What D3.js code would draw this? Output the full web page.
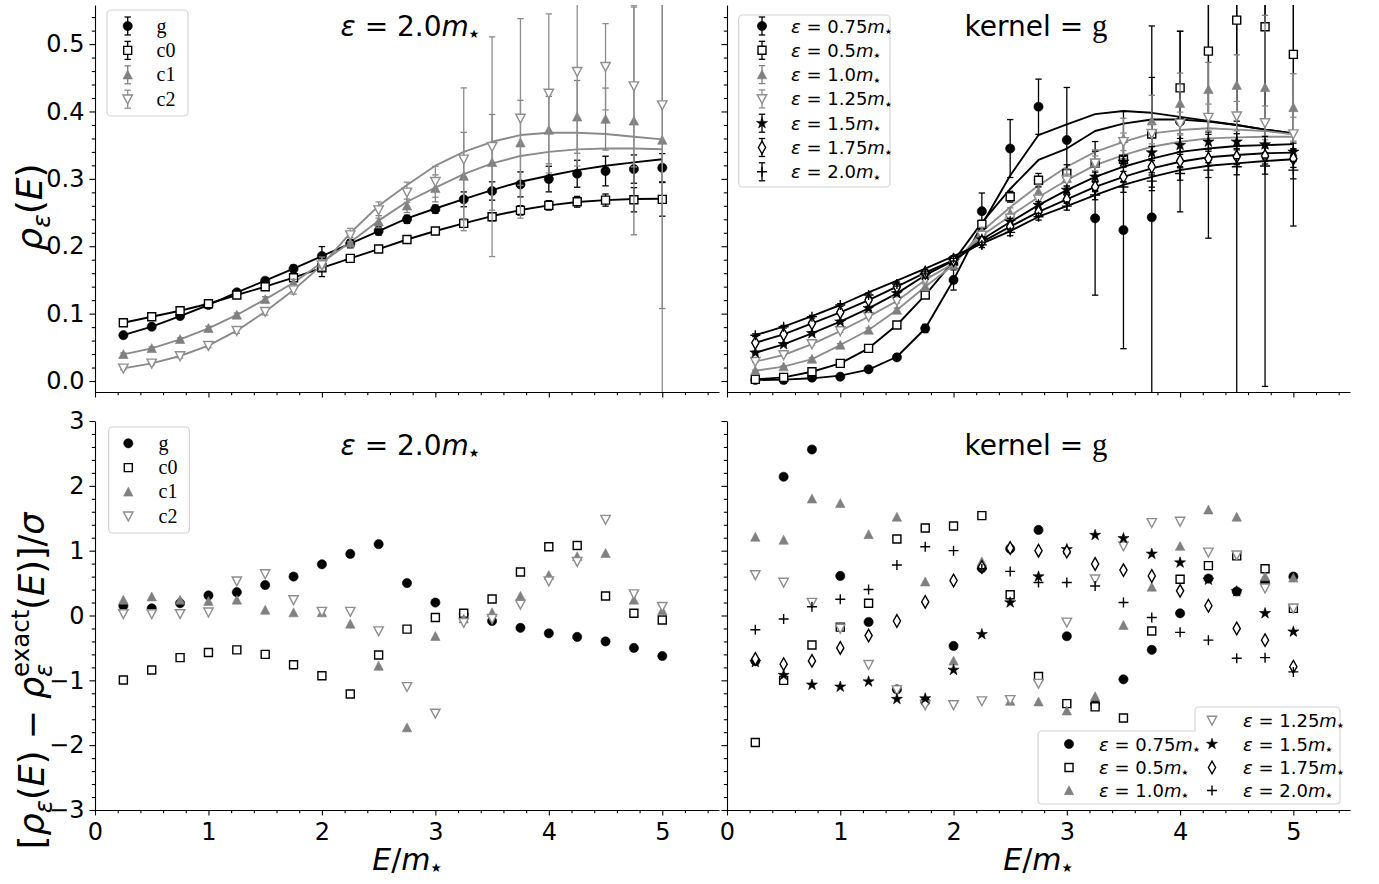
<!DOCTYPE html>
<html><head><meta charset="utf-8">
<script src="https://cdn.jsdelivr.net/npm/d3@7"></script>
<style>body{margin:0;background:#fff}svg{display:block}</style>
</head><body>
<svg id="chart" width="1379" height="884"></svg>
<script>
// ---------------- DATA ----------------
const E = [0.25,0.5,0.75,1.0,1.25,1.5,1.75,2.0,2.25,2.5,2.75,3.0,3.25,3.5,3.75,4.0,4.25,4.5,4.75,5.0];

// Top-left: eps = 2.0 m*, kernels g, c0, c1, c2
const kernelNames = ["g","c0","c1","c2"];
const tl_g      = [0.068,0.0806,0.0964,0.1128,0.1316,0.1488,0.1667,0.1855,0.204,0.2226,0.240,0.255,0.2696,0.282,0.2918,0.2997,0.3076,0.3116,0.3145,0.3165];
const tl_g_err  = [0.002,0.002,0.002,0.003,0.003,0.004,0.005,0.014,0.006,0.006,0.006,0.006,0.011,0.0136,0.0185,0.019,0.02,0.022,0.021,0.021];
const tl_g_ex   = [0.068,0.0806,0.0964,0.1128,0.1316,0.1488,0.1667,0.1855,0.204,0.2226,0.2414,0.256,0.270,0.2834,0.2957,0.3046,0.313,0.3195,0.3244,0.329];
const tl_c0     = [0.0865,0.0954,0.1043,0.1147,0.1276,0.140,0.1533,0.168,0.182,0.1958,0.210,0.2226,0.234,0.2438,0.2532,0.2606,0.266,0.2685,0.269,0.2696];
const tl_c0_err = [0.002,0.002,0.002,0.002,0.003,0.003,0.004,0.013,0.004,0.004,0.005,0.005,0.006,0.006,0.007,0.007,0.008,0.009,0.018,0.025];
const tl_c0_ex  = [0.0865,0.0954,0.1043,0.1147,0.1276,0.140,0.1533,0.168,0.182,0.1958,0.210,0.2226,0.234,0.2448,0.2537,0.2606,0.2656,0.2685,0.270,0.2705];
const tl_c1     = [0.0396,0.0485,0.0619,0.0782,0.098,0.1212,0.1459,0.176,0.205,0.2364,0.260,0.2859,0.304,0.3245,0.3536,0.3724,0.392,0.3887,0.386,0.3576];
const tl_c1_err = [0.002,0.002,0.002,0.003,0.003,0.004,0.005,0.008,0.008,0.009,0.010,0.020,0.065,0.071,0.063,0.050,0.054,0.046,0.169,0.250];
const tl_c1_ex  = [0.0396,0.0485,0.0619,0.0782,0.098,0.1212,0.1459,0.176,0.206,0.238,0.266,0.287,0.307,0.323,0.334,0.340,0.3437,0.345,0.345,0.344];
const tl_c2     = [0.0188,0.0262,0.0371,0.0524,0.0747,0.1029,0.135,0.172,0.2166,0.2537,0.280,0.2957,0.329,0.3477,0.3897,0.4268,0.459,0.4664,0.4377,0.4095];
const tl_c2_err = [0.002,0.002,0.003,0.003,0.004,0.005,0.006,0.008,0.010,0.012,0.015,0.023,0.106,0.163,0.148,0.118,0.140,0.064,0.120,0.450];
const tl_c2_ex  = [0.0188,0.0262,0.0371,0.0524,0.0747,0.1029,0.135,0.172,0.2196,0.260,0.2908,0.3195,0.340,0.355,0.365,0.3684,0.3684,0.3665,0.3625,0.3586];

// Top-right: kernel g, several eps (legend order)
const epsLabels = ["0.75","0.5","1.0","1.25","1.5","1.75","2.0"];
const tr_075     = [0.0015,0.0015,0.005,0.0064,0.0173,0.0351,0.078,0.150,0.252,0.345,0.407,0.3576,0.2414,0.224,0.2429,0.385,0.586,0.600,0.698,0.570];
const tr_075_err = [0.001,0.001,0.001,0.002,0.003,0.004,0.006,0.015,0.027,0.043,0.041,0.078,0.114,0.176,0.284,0.134,0.374,0.700,0.706,0.340];
const tr_075_ex  = [0.0015,0.002,0.004,0.008,0.017,0.036,0.078,0.150,0.232,0.305,0.365,0.381,0.396,0.4006,0.398,0.392,0.386,0.380,0.373,0.3675];
const tr_05      = [0.0025,0.0054,0.0138,0.0262,0.0485,0.0831,0.1276,0.178,0.2325,0.2735,0.298,0.308,0.323,0.329,0.3665,0.435,0.4896,0.5356,0.5257,0.4847];
const tr_05_err  = [0.001,0.001,0.001,0.002,0.002,0.003,0.004,0.005,0.006,0.008,0.010,0.013,0.018,0.025,0.084,0.084,0.120,0.150,0.200,0.140];
const tr_05_ex   = [0.0025,0.0054,0.0138,0.0262,0.0485,0.0831,0.1276,0.178,0.235,0.285,0.328,0.345,0.371,0.382,0.388,0.388,0.385,0.380,0.373,0.3675];
const tr_10      = [0.0153,0.0213,0.0326,0.0534,0.0757,0.1053,0.140,0.172,0.222,0.249,0.281,0.3007,0.323,0.360,0.386,0.412,0.4328,0.439,0.4357,0.406];
const tr_10_err  = [0.001,0.001,0.002,0.002,0.003,0.003,0.004,0.005,0.006,0.008,0.010,0.014,0.020,0.030,0.038,0.045,0.040,0.045,0.107,0.050];
const tr_10_ex   = [0.0153,0.0213,0.0326,0.0534,0.0757,0.1053,0.140,0.172,0.222,0.258,0.290,0.318,0.340,0.355,0.3675,0.3724,0.375,0.373,0.371,0.366];
const tr_125     = [0.0287,0.0386,0.0549,0.0742,0.0955,0.1187,0.150,0.1746,0.216,0.2414,0.2696,0.298,0.323,0.355,0.367,0.382,0.391,0.393,0.383,0.3665];
const tr_125_err = [0.001,0.001,0.002,0.002,0.002,0.003,0.003,0.004,0.005,0.006,0.007,0.009,0.011,0.013,0.015,0.017,0.020,0.022,0.025,0.025];
const tr_125_ex  = [0.0287,0.0386,0.0549,0.0742,0.0955,0.1187,0.150,0.1746,0.216,0.245,0.273,0.298,0.3205,0.3353,0.3477,0.355,0.360,0.3616,0.3625,0.3625];
const tr_15      = [0.042,0.0544,0.0707,0.088,0.1078,0.130,0.157,0.1785,0.210,0.2364,0.261,0.2834,0.303,0.3254,0.339,0.350,0.355,0.355,0.351,0.340];
const tr_15_err  = [0.002,0.002,0.002,0.002,0.003,0.003,0.003,0.004,0.004,0.005,0.005,0.006,0.007,0.008,0.009,0.010,0.011,0.012,0.012,0.013];
const tr_15_ex   = [0.042,0.0544,0.0707,0.088,0.1078,0.130,0.157,0.1785,0.210,0.236,0.261,0.2834,0.303,0.318,0.330,0.340,0.345,0.3487,0.350,0.3516];
const tr_175     = [0.0568,0.0693,0.0856,0.102,0.1202,0.140,0.1607,0.1795,0.2067,0.229,0.251,0.2696,0.288,0.303,0.318,0.3264,0.330,0.333,0.334,0.330];
const tr_175_err = [0.002,0.002,0.002,0.002,0.003,0.003,0.003,0.004,0.004,0.005,0.005,0.006,0.007,0.008,0.009,0.010,0.011,0.012,0.012,0.013];
const tr_175_ex  = [0.0568,0.0693,0.0856,0.102,0.1202,0.140,0.1607,0.1795,0.206,0.229,0.251,0.2696,0.288,0.303,0.3155,0.3254,0.332,0.3353,0.338,0.339];
const tr_20      = [0.068,0.0806,0.0955,0.1128,0.1276,0.1439,0.162,0.182,0.202,0.2206,0.2438,0.2596,0.276,0.288,0.2967,0.308,0.313,0.318,0.319,0.313];
const tr_20_err  = [0.002,0.002,0.002,0.002,0.003,0.003,0.003,0.004,0.004,0.005,0.005,0.006,0.007,0.008,0.009,0.010,0.011,0.012,0.012,0.013];
const tr_20_ex   = [0.068,0.0806,0.0964,0.1128,0.1316,0.1488,0.1667,0.1855,0.204,0.2226,0.2438,0.2596,0.276,0.291,0.303,0.313,0.3195,0.323,0.3264,0.329];

// Bottom-left: residuals, eps = 2.0
const bl_g  = [0.15,0.11,0.19,0.31,0.36,0.47,0.60,0.79,0.95,1.10,0.50,0.20,0.02,-0.085,-0.19,-0.275,-0.33,-0.40,-0.50,-0.625];
const bl_c0 = [-0.995,-0.84,-0.65,-0.57,-0.53,-0.60,-0.76,-0.93,-1.21,-0.61,-0.21,-0.03,0.035,0.255,0.67,1.06,1.08,0.30,0.035,-0.07];
const bl_c1 = [0.24,0.29,0.24,0.22,0.24,0.085,0.045,0.045,-0.13,-0.78,-1.73,-0.32,-0.05,0.045,0.30,0.62,0.91,0.96,0.24,0.075];
const bl_c2 = [0.025,0.025,0.025,0.05,0.53,0.64,0.24,0.06,0.06,-0.24,-1.10,-1.51,-0.11,-0.05,0.17,0.53,0.83,1.48,0.33,0.135];

// Bottom-right: residuals, kernel g
const br_075 = [-0.70,2.14,2.56,0.61,-0.10,-1.14,-1.33,-0.47,0.73,1.03,1.32,-0.32,-1.36,-0.985,-0.53,0.034,0.57,0.37,0.51,0.60];
const br_05  = [-1.96,-1.00,-0.455,-0.18,0.19,1.18,1.35,1.38,1.54,0.32,-0.94,-1.36,-1.41,-1.58,-0.24,0.56,0.77,0.92,0.72,0.11];
const br_10  = [1.21,1.165,1.80,1.73,1.25,1.52,0.52,-0.70,0.83,-1.32,-1.33,-1.47,-1.25,-0.15,0.44,1.07,1.63,1.52,0.60,0.58];
const br_125 = [0.625,0.51,0.20,-0.20,-0.76,-1.15,-1.38,-1.38,-1.32,-1.30,-1.05,-0.105,0.56,1.07,1.43,1.45,0.975,0.93,0.42,0.11];
const br_15  = [-0.72,-0.92,-1.07,-1.10,-1.02,-1.29,-1.28,-0.84,-0.29,0.20,0.60,1.02,1.24,1.19,0.95,0.815,0.55,0.37,0.034,-0.25];
const br_175 = [-0.67,-0.75,-0.70,-0.50,-0.31,-0.085,0.21,0.54,0.75,1.04,1.00,0.985,0.795,0.70,0.61,0.38,0.15,-0.20,-0.38,-0.79];
const br_20  = [-0.22,-0.054,0.136,0.25,0.40,0.78,1.06,1.00,0.72,0.68,0.51,0.51,0.455,0.20,-0.03,-0.26,-0.38,-0.66,-0.65,-0.87];

// Ticks
const xMajor = [0,1,2,3,4,5];
const yTopMajor = [0,0.1,0.2,0.3,0.4,0.5];
const yBotMajor = [-3,-2,-1,0,1,2,3];

// ---------------- STYLES ----------------
const GRAY = "#808080", LGRAY = "#8e8e8e";
const ST = {
  circle:  {type:"circle",  fill:"#000", stroke:"#000", bar:"#000"},
  square:  {type:"square",  fill:"#fff", stroke:"#000", bar:"#000"},
  triUp:   {type:"triUp",   fill:GRAY,   stroke:GRAY,   bar:GRAY},
  triDown: {type:"triDown", fill:"#fff", stroke:LGRAY,  bar:LGRAY},
  star:    {type:"star",    fill:"#000", stroke:"#000", bar:"#000"},
  diamond: {type:"diamond", fill:"#fff", stroke:"#000", bar:"#000"},
  plus:    {type:"plus",    fill:"none", stroke:"#000", bar:"#000"}
};

const svg = d3.select("#chart");
const FONT = "DejaVu Sans";
const SERIF = "Liberation Serif";

const xL = d3.scaleLinear().domain([0,5.5]).range([95,719]);
const xR = d3.scaleLinear().domain([0,5.5]).range([727,1350]);
const yT = d3.scaleLinear().domain([-0.0163,0.558]).range([392,5]);
const yB = d3.scaleLinear().domain([-3,3]).range([810,421]);

const defs = svg.append("defs");
function clip(id,x,y,w,h){ defs.append("clipPath").attr("id",id).append("rect").attr("x",x).attr("y",y).attr("width",w).attr("height",h); return "url(#"+id+")"; }
const cTL = clip("cTL",95,5,624,387), cTR = clip("cTR",727,5,623,387);
const cBL = clip("cBL",95,421,624,389), cBR = clip("cBR",727,421,623,389);

function markerPath(type){
  switch(type){
    case "circle": return d3.symbol(d3.symbolCircle, Math.PI*4.6*4.6)();
    case "square": return "M-4,-4H4V4H-4Z";
    case "triUp": return "M0,-4.7L4.7,4.2L-4.7,4.2Z";
    case "triDown": return "M0,4.7L4.7,-4.2L-4.7,-4.2Z";
    case "star": return d3.symbol(d3.symbolStar, 38)();
    case "diamond": return "M0,-6.3L3.6,0L0,6.3L-3.6,0Z";
    case "plus": return "M-5,0H5M0,-5V5";
  }
}
function drawMarker(g,st,x,y){
  g.append("path").attr("d",markerPath(st.type)).attr("transform",`translate(${x},${y})`)
    .attr("fill",st.fill).attr("stroke",st.stroke)
    .attr("stroke-width", st.type==="plus"?1.4:(st.type==="circle"||st.type==="star"||st.type==="triUp"?0.6:1.4));
}
function drawCurve(g,xs,ys,vals,color){
  const line = d3.line().x((d,i)=>xs(E[i])).y(d=>ys(d));
  g.append("path").datum(vals).attr("d",line).attr("fill","none").attr("stroke",color).attr("stroke-width",1.9).attr("stroke-linejoin","round");
}
function drawErr(g,xs,ys,vals,errs,st){
  const cw=3.2;
  vals.forEach((v,i)=>{
    const x=xs(E[i]), y1=ys(v-errs[i]), y2=ys(v+errs[i]);
    g.append("line").attr("x1",x).attr("x2",x).attr("y1",y1).attr("y2",y2).attr("stroke",st.bar).attr("stroke-width",1.3);
    [y1,y2].forEach(yy=>g.append("line").attr("x1",x-cw).attr("x2",x+cw).attr("y1",yy).attr("y2",yy).attr("stroke",st.bar).attr("stroke-width",1.3));
  });
  vals.forEach((v,i)=>drawMarker(g,st,xs(E[i]),ys(v)));
}
function drawPoints(g,xs,ys,vals,st){ vals.forEach((v,i)=>drawMarker(g,st,xs(E[i]),ys(v))); }

// rich text helper
function rich(t, parts, fs){
  let shift=0;
  const nodes=[];
  parts.forEach(p=>{
    const ts=t.append("tspan").text(p.t);
    const target=(p.shift||0)*fs;
    if(Math.abs(target-shift)>1e-6) ts.attr("dy",target-shift);
    shift=target;
    if(p.it) ts.attr("font-style","italic");
    if(p.scale) ts.attr("font-size",fs*p.scale);
    if(p.serif) ts.attr("font-family",SERIF);
    nodes.push(ts);
  });
  return nodes;
}
const epsParts = (num)=>[{t:"ε",it:true},{t:" = "+num},{t:"m",it:true},{t:"★",scale:0.42,shift:0.08}];

// ---------------- AXES ----------------
function axes(xs,ys,yTop,yBot,showX,showY,yMajor,yMinorStep,yFmt){
  const minorX=d3.range(0,5.5001,0.2).filter(v=>!xMajor.some(m=>Math.abs(m-v)<1e-6));
  const [d0,d1]=ys.domain();
  const minorY=d3.range(Math.ceil(d0/yMinorStep-1e-9)*yMinorStep, d1+1e-9, yMinorStep).map(v=>+v.toFixed(4)).filter(v=>!yMajor.some(m=>Math.abs(m-v)<1e-6));
  const gx=svg.append("g").attr("transform",`translate(0,${yBot})`);
  gx.call(d3.axisBottom(xs).tickValues(xMajor).tickSize(5.5).tickSizeOuter(0).tickPadding(6).tickFormat(showX?d3.format("d"):""));
  gx.append("g").call(d3.axisBottom(xs).tickValues(minorX).tickSize(3.2).tickSizeOuter(0).tickFormat("")).select(".domain").remove();
  const gy=svg.append("g").attr("transform",`translate(${xs.range()[0]},0)`);
  gy.call(d3.axisLeft(ys).tickValues(yMajor).tickSize(5.5).tickSizeOuter(0).tickPadding(5).tickFormat(showY?yFmt:""));
  gy.append("g").call(d3.axisLeft(ys).tickValues(minorY).tickSize(3.2).tickSizeOuter(0).tickFormat("")).select(".domain").remove();
  [gx,gy].forEach(g=>{
    g.selectAll("text").attr("font-family",FONT).attr("font-size",24).attr("fill","#000");
    g.selectAll("line").attr("stroke","#000").attr("stroke-width",1.1);
    g.selectAll(".domain").attr("stroke","#000").attr("stroke-width",1.1);
  });
  gx.selectAll(".tick text").attr("dy","0.78em");
}
const fmtTop=d3.format(".1f");
const fmtBot=d=>d<0?"−"+Math.abs(d):String(d);
axes(xL,yT,5,392,false,true,yTopMajor,0.02,fmtTop);
axes(xR,yT,5,392,false,false,yTopMajor,0.02,fmtTop);
axes(xL,yB,421,810,true,true,yBotMajor,0.2,fmtBot);
axes(xR,yB,421,810,true,false,yBotMajor,0.2,fmtBot);

// ---------------- TOP-LEFT ----------------
const gTL=svg.append("g").attr("clip-path",cTL);
const tlSeries=[[tl_g,tl_g_err,tl_g_ex,ST.circle,"#000"],[tl_c0,tl_c0_err,tl_c0_ex,ST.square,"#000"],[tl_c1,tl_c1_err,tl_c1_ex,ST.triUp,"#8a8a8a"],[tl_c2,tl_c2_err,tl_c2_ex,ST.triDown,"#8a8a8a"]];
tlSeries.forEach(s=>drawCurve(gTL,xL,yT,s[2],s[4]));
tlSeries.forEach(s=>drawErr(gTL,xL,yT,s[0],s[1],s[3]));

// ---------------- TOP-RIGHT ----------------
const gTR=svg.append("g").attr("clip-path",cTR);
const trSeries=[
  [tr_075,tr_075_err,tr_075_ex,ST.circle,"#000"],
  [tr_05,tr_05_err,tr_05_ex,ST.square,"#000"],
  [tr_10,tr_10_err,tr_10_ex,ST.triUp,"#8e8e8e"],
  [tr_125,tr_125_err,tr_125_ex,ST.triDown,"#8e8e8e"],
  [tr_15,tr_15_err,tr_15_ex,ST.star,"#000"],
  [tr_175,tr_175_err,tr_175_ex,ST.diamond,"#000"],
  [tr_20,tr_20_err,tr_20_ex,ST.plus,"#000"]];
trSeries.forEach(s=>drawCurve(gTR,xR,yT,s[2],s[4]));
trSeries.forEach(s=>drawErr(gTR,xR,yT,s[0],s[1],s[3]));

// ---------------- BOTTOM ----------------
const gBL=svg.append("g").attr("clip-path",cBL);
[[bl_g,ST.circle],[bl_c0,ST.square],[bl_c1,ST.triUp],[bl_c2,ST.triDown]].forEach(s=>drawPoints(gBL,xL,yB,s[0],s[1]));
const gBR=svg.append("g").attr("clip-path",cBR);
[[br_075,ST.circle],[br_05,ST.square],[br_10,ST.triUp],[br_125,ST.triDown],[br_15,ST.star],[br_175,ST.diamond],[br_20,ST.plus]].forEach(s=>drawPoints(gBR,xR,yB,s[0],s[1]));

// ---------------- LEGENDS ----------------
function legendBox(x,y,w,h){
  svg.append("rect").attr("x",x).attr("y",y).attr("width",w).attr("height",h).attr("rx",4)
    .attr("fill","#fff").attr("fill-opacity",0.8).attr("stroke","#d4d4d4").attr("stroke-width",1.2);
}
function legendMarker(x,y,st,withErr){
  const g=svg.append("g");
  if(withErr){
    g.append("line").attr("x1",x).attr("x2",x).attr("y1",y-9).attr("y2",y+9).attr("stroke",st.bar).attr("stroke-width",1.3);
    [y-9,y+9].forEach(yy=>g.append("line").attr("x1",x-3.2).attr("x2",x+3.2).attr("y1",yy).attr("y2",yy).attr("stroke",st.bar).attr("stroke-width",1.3));
  }
  drawMarker(g,st,x,y);
}
const kStyles=[ST.circle,ST.square,ST.triUp,ST.triDown];
const eStyles=[ST.circle,ST.square,ST.triUp,ST.triDown,ST.star,ST.diamond,ST.plus];
// top-left
legendBox(107,10,81,106);
kernelNames.forEach((n,i)=>{ const y=26+i*24.4; legendMarker(127.7,y,kStyles[i],true);
  svg.append("text").attr("x",156.5).attr("y",y+6.5).attr("font-family",SERIF).attr("font-size",20).text(n); });
// bottom-left
legendBox(108.7,427,80.7,106);
kernelNames.forEach((n,i)=>{ const y=443.3+i*24.3; legendMarker(128.3,y,kStyles[i],false);
  svg.append("text").attr("x",158.5).attr("y",y+6.5).attr("font-family",SERIF).attr("font-size",20).text(n); });
// top-right
legendBox(738.7,15,151.3,172);
epsLabels.forEach((n,i)=>{ const y=26+i*24.3; legendMarker(762,y,eStyles[i],true);
  const t=svg.append("text").attr("x",791).attr("y",y+6.5).attr("font-family",FONT).attr("font-size",18);
  rich(t,epsParts(n),18); });
// bottom-right (notched frame, 2 columns)
svg.append("path").attr("d","M1042,731H1195V711Q1195,707 1199,707H1336Q1340,707 1340,711V800Q1340,804 1336,804H1042Q1038,804 1038,800V735Q1038,731 1042,731Z")
  .attr("fill","#fff").attr("fill-opacity",0.8).attr("stroke","#d4d4d4").attr("stroke-width",1.2);
const brPos=[[0,1],[0,2],[0,3],[1,0],[1,1],[1,2],[1,3]];
const brRows=[720.5,744,767.5,790.5];
epsLabels.forEach((n,i)=>{ const [c,r]=brPos[i]; const mx=c?1212:1069, tx=c?1243:1099, y=brRows[r];
  legendMarker(mx,y,eStyles[i],false);
  const t=svg.append("text").attr("x",tx).attr("y",y+6.5).attr("font-family",FONT).attr("font-size",18);
  rich(t,epsParts(n),18); });

// ---------------- TITLES ----------------
function title(x,y,parts){ const t=svg.append("text").attr("x",x).attr("y",y).attr("text-anchor","middle").attr("font-family",FONT).attr("font-size",28); rich(t,parts,28); }
const epsTitle=[{t:"ε",it:true},{t:" = 2.0"},{t:"m",it:true},{t:"★",scale:0.42,shift:0.08}];
const kerTitle=[{t:"kernel = "},{t:"g",serif:true,scale:1.1}];
title(410,36,epsTitle);
title(1036,36,kerTitle);
title(410,455,epsTitle);
title(1036,455,kerTitle);

// ---------------- AXIS LABELS ----------------
function xlabel(x){ const t=svg.append("text").attr("x",x).attr("y",870).attr("text-anchor","middle").attr("font-family",FONT).attr("font-size",30);
  rich(t,[{t:"E",it:true},{t:"/"},{t:"m",it:true},{t:"★",scale:0.42,shift:0.08}],30); }
xlabel(407); xlabel(1038);

function centerRot(t,bx,cy){
  const bb=t.node().getBBox();
  t.attr("transform",`translate(${bx},${cy}) rotate(-90) translate(${-(bb.x+bb.width/2)},0)`);
}
{
  const fs=36;
  const t=svg.append("text").attr("font-family",FONT).attr("font-size",fs);
  rich(t,[{t:"ρ",it:true},{t:"ε",it:true,scale:0.7,shift:0.22},{t:"("},{t:"E",it:true},{t:")"}],fs);
  centerRot(t,42,207);
}
{
  const fs=35;
  const t=svg.append("text").attr("font-family",FONT).attr("font-size",fs);
  const n=rich(t,[{t:"["},{t:"ρ",it:true},{t:"ε",it:true,scale:0.7,shift:0.22},{t:"("},{t:"E",it:true},{t:") − "},{t:"ρ",it:true},
    {t:"ε",it:true,scale:0.7,shift:0.22},{t:"exact",scale:0.7,shift:-0.42},{t:"("},{t:"E",it:true},{t:")]/"},{t:"σ",it:true}],fs);
  const w=n[7].node().getComputedTextLength();
  n[8].attr("dx",-w);
  centerRot(t,44,680);
}
</script>
</body></html>
